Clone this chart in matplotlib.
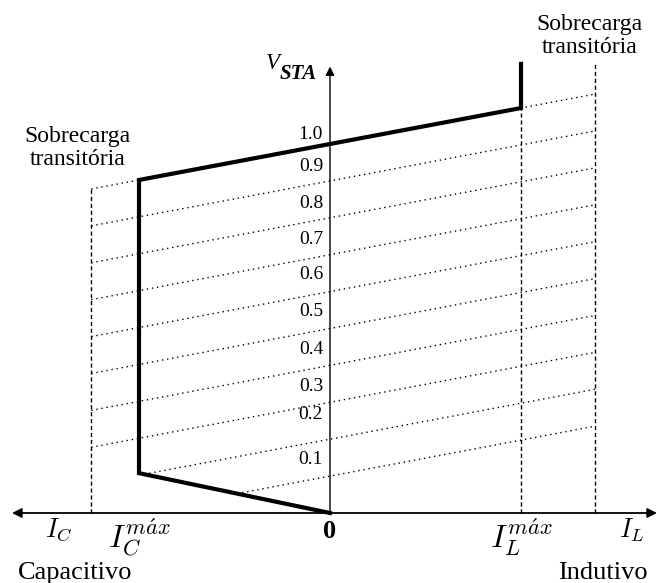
import matplotlib
matplotlib.use("Agg")
import matplotlib.pyplot as plt
import numpy as np

# ---- data (normalized: I in units of I_max, V in p.u.) ----
levels = [0.1, 0.2, 0.3, 0.4, 0.5, 0.6, 0.7, 0.8, 0.9, 1.0]
level_labels = ["0.1", "0.2", "0.3", "0.4", "0.5", "0.6", "0.7", "0.8", "0.9", "1.0"]
label_v = [0.146, 0.266, 0.344, 0.442, 0.545, 0.645, 0.74, 0.84, 0.938, 1.027]
slope = 0.0975            # droop (V per unit I)
lower_slope = -0.108      # lower boundary slope (V per unit I, capacitive side)
I_c_max, I_l_max = -1.0, 1.0
I_c_over, I_l_over = -1.25, 1.39
thick_I = [0.0, -1.0, -1.0, 1.0, 1.0]
thick_V = [0.0, 0.108, 0.9025, 1.0975, 1.217]
axis_I = [-1.665, 1.712]
axis_V_top = 1.21
over_V_top_right = 1.217

SERIF = "Liberation Serif"

fig = plt.figure(figsize=(6.62, 5.83), dpi=100)
ax = fig.add_axes([0, 0, 1, 1])
ax.set_xlim(-330 / 191, 332 / 191)
ax.set_ylim((513 - 583) / 369, 513 / 369)
ax.axis("off")

dot = (0, (1, 2.7))
dash = (0, (3, 2))

# dotted constant-voltage lines
for v in levels:
    start = max(I_c_over, -v / (slope - lower_slope))
    xs = np.array([start, I_l_over])
    ax.plot(xs, v + slope * xs, color="black", lw=1.0, linestyle=dot)

# dashed verticals
ax.plot([I_c_over, I_c_over], [0, 1.0 + slope * I_c_over], color="black", lw=1.0, linestyle=dash)
ax.plot([I_l_max, I_l_max], [0, thick_V[3]], color="black", lw=1.0, linestyle=dash)
ax.plot([I_l_over, I_l_over], [0, over_V_top_right], color="black", lw=1.0, linestyle=dash)

# axes arrows
ax.annotate("", xy=(axis_I[0], 0), xytext=(axis_I[1], 0),
            arrowprops=dict(arrowstyle="<|-|>", color="black", lw=1.3,
                            mutation_scale=14, shrinkA=0, shrinkB=0))
ax.annotate("", xy=(0, axis_V_top), xytext=(0, 0),
            arrowprops=dict(arrowstyle="-|>", color="black", lw=1.0,
                            mutation_scale=13, shrinkA=0, shrinkB=0))

# thick characteristic
ax.plot(thick_I, thick_V, color="black", lw=3.0, solid_joinstyle="miter", zorder=5)

# level labels
for lv, lab in zip(label_v, level_labels):
    ax.annotate(lab, xy=(0, lv), xytext=(-5, 0), textcoords="offset points",
                ha="right", va="center", fontsize=14, family=SERIF)

# V_STA label
ax.text(-0.335, 1.203, "V", fontsize=16.5, family=SERIF, style="italic",
        ha="left", va="baseline")
ax.text(-0.265, 1.176, "STA", fontsize=15, family=SERIF, style="italic",
        weight="bold", ha="left", va="baseline")

# overload labels
ax.text(-1.32, (513 - 148) / 369, "Sobrecarga\ntransitória", fontsize=17,
        family=SERIF, ha="center", va="center", linespacing=1.1)
ax.text(1.36, (513 - 36) / 369, "Sobrecarga\ntransitória", fontsize=17,
        family=SERIF, ha="center", va="center", linespacing=1.1)

# bottom labels
ytop = -0.01
ax.text(-1.42, ytop, r"$I_C$", fontsize=19, math_fontfamily="cm", ha="center", va="top")
ax.text(I_c_max, ytop, r"$I_C^{m\acute{a}x}$", fontsize=23, math_fontfamily="cm",
        ha="center", va="top")
ax.text(0, -0.018, "0", fontsize=19, family=SERIF, weight="bold", ha="center", va="top")
ax.text(I_l_max, ytop, r"$I_L^{m\acute{a}x}$", fontsize=23, math_fontfamily="cm",
        ha="center", va="top")
ax.text(1.58, ytop, r"$I_L$", fontsize=19, math_fontfamily="cm", ha="center", va="top")

ax.text(-1.335, -0.178, "Capacitivo", fontsize=19, family=SERIF, ha="center", va="baseline")
ax.text(1.43, -0.178, "Indutivo", fontsize=19, family=SERIF, ha="center", va="baseline")

fig.savefig("out.png", dpi=100)
